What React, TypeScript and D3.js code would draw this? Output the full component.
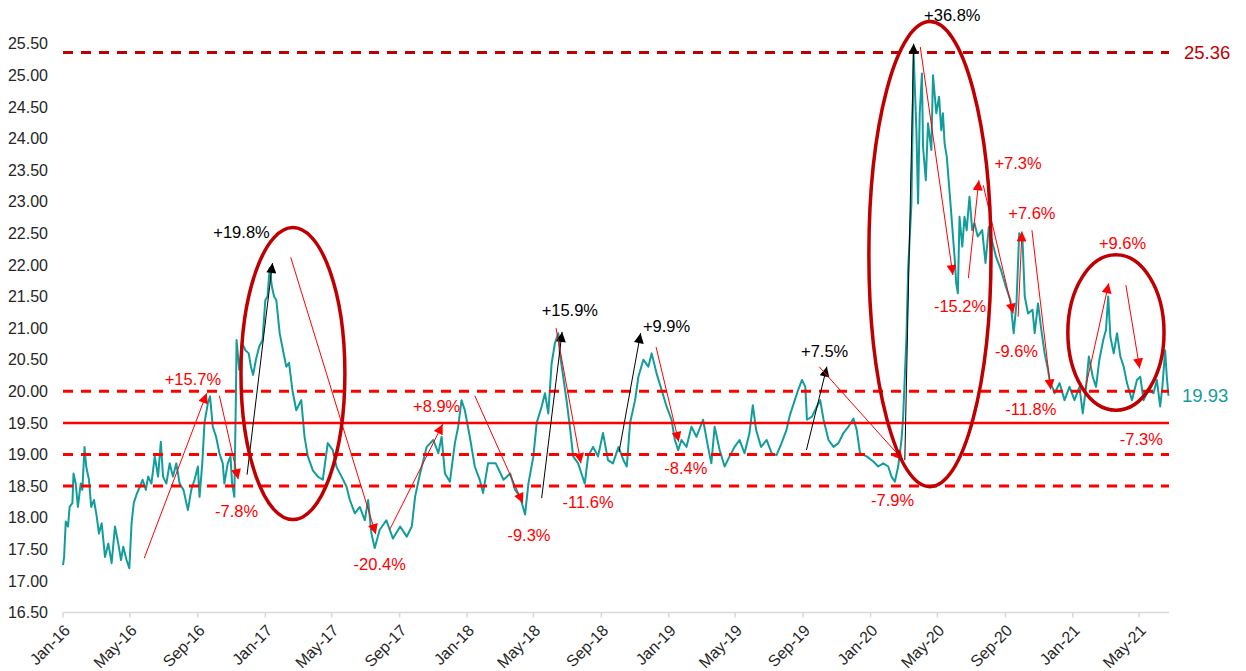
import React, { useEffect, useRef } from 'react';
import * as d3 from 'd3';

type Pt = [string, number];

// daily closes, one list per year
const s2016: Pt[] = [
  ['2016-01-01', 17.25], ['2016-01-03', 17.38], ['2016-01-06', 17.94], ['2016-01-10', 17.86], ['2016-01-13', 18.17],
  ['2016-01-18', 18.23], ['2016-01-20', 18.7], ['2016-01-24', 18.54], ['2016-01-28', 18.17], ['2016-02-02', 18.54],
  ['2016-02-05', 18.44], ['2016-02-09', 19.12], ['2016-02-12', 18.81], ['2016-02-17', 18.6], ['2016-02-21', 18.17],
  ['2016-02-26', 18.28], ['2016-03-02', 18.02], ['2016-03-06', 17.75], ['2016-03-11', 17.91], ['2016-03-17', 17.38],
  ['2016-03-23', 17.59], ['2016-03-29', 17.28], ['2016-04-04', 17.86], ['2016-04-10', 17.59], ['2016-04-15', 17.33],
  ['2016-04-19', 17.54], ['2016-04-25', 17.33], ['2016-04-30', 17.2], ['2016-05-04', 17.91], ['2016-05-08', 18.23],
  ['2016-05-14', 18.39], ['2016-05-19', 18.49], ['2016-05-24', 18.6], ['2016-05-30', 18.44], ['2016-06-03', 18.65],
  ['2016-06-09', 18.54], ['2016-06-15', 18.97], ['2016-06-21', 18.65], ['2016-06-26', 19.2], ['2016-06-30', 18.65],
  ['2016-07-06', 18.54], ['2016-07-12', 18.86], ['2016-07-18', 18.65], ['2016-07-24', 18.86], ['2016-07-30', 18.54],
  ['2016-08-06', 18.44], ['2016-08-14', 18.12], ['2016-08-20', 18.44], ['2016-08-26', 18.6], ['2016-09-01', 18.81],
  ['2016-09-04', 18.33], ['2016-09-09', 18.86], ['2016-09-13', 19.5], ['2016-09-19', 19.81], ['2016-09-23', 19.92],
  ['2016-09-28', 19.44], ['2016-10-04', 19.28], ['2016-10-10', 19.02], ['2016-10-16', 18.86], ['2016-10-19', 18.54],
  ['2016-10-25', 18.86], ['2016-10-30', 18.97], ['2016-11-02', 18.54], ['2016-11-06', 18.33], ['2016-11-09', 20.02],
  ['2016-11-10', 20.81], ['2016-11-15', 20.34], ['2016-11-20', 20.76], ['2016-11-26', 20.65], ['2016-12-02', 20.6],
  ['2016-12-06', 20.39], ['2016-12-10', 20.26], ['2016-12-15', 20.5], ['2016-12-21', 20.71], ['2016-12-27', 20.81],
];

const s2017: Pt[] = [
  ['2017-01-01', 21.44], ['2017-01-05', 21.5], ['2017-01-09', 21.95], ['2017-01-13', 21.65], ['2017-01-17', 21.5],
  ['2017-01-21', 21.44], ['2017-01-27', 20.92], ['2017-02-02', 20.65], ['2017-02-08', 20.39], ['2017-02-13', 20.45],
  ['2017-02-19', 20.02], ['2017-02-26', 19.7], ['2017-03-07', 19.86], ['2017-03-13', 19.28], ['2017-03-19', 18.97],
  ['2017-03-28', 18.75], ['2017-04-06', 18.65], ['2017-04-15', 18.6], ['2017-04-24', 19.18], ['2017-05-03', 19.07],
  ['2017-05-10', 18.8], ['2017-05-19', 18.65], ['2017-05-28', 18.49], ['2017-06-03', 18.28], ['2017-06-12', 18.07],
  ['2017-06-21', 18.17], ['2017-06-30', 17.96], ['2017-07-06', 18.28], ['2017-07-12', 17.75], ['2017-07-18', 17.52],
  ['2017-07-27', 17.81], ['2017-08-08', 17.96], ['2017-08-20', 17.67], ['2017-09-02', 17.86], ['2017-09-14', 17.7],
  ['2017-09-23', 17.86], ['2017-09-29', 18.33], ['2017-10-08', 18.7], ['2017-10-20', 19.12], ['2017-11-01', 19.23],
  ['2017-11-10', 19.02], ['2017-11-16', 19.28], ['2017-11-22', 18.7], ['2017-12-01', 18.57], ['2017-12-10', 19.18],
  ['2017-12-16', 19.44], ['2017-12-22', 19.86], ['2017-12-28', 19.7],
];

const s2018: Pt[] = [
  ['2018-01-06', 19.28], ['2018-01-15', 18.81], ['2018-01-24', 18.6], ['2018-01-30', 18.39], ['2018-02-08', 18.86],
  ['2018-02-22', 18.86], ['2018-03-08', 18.6], ['2018-03-20', 18.7], ['2018-03-29', 18.44], ['2018-04-07', 18.33],
  ['2018-04-16', 18.05], ['2018-04-22', 18.54], ['2018-05-01', 18.97], ['2018-05-07', 19.5], ['2018-05-16', 19.76],
  ['2018-05-22', 19.97], ['2018-05-28', 19.65], ['2018-06-03', 20.44], ['2018-06-09', 20.76], ['2018-06-15', 20.92],
  ['2018-06-18', 20.6], ['2018-06-24', 20.23], ['2018-06-30', 19.86], ['2018-07-06', 19.44], ['2018-07-12', 18.97],
  ['2018-07-21', 18.86], ['2018-07-27', 18.7], ['2018-08-02', 18.54], ['2018-08-08', 18.97], ['2018-08-17', 19.12],
  ['2018-08-26', 18.97], ['2018-09-04', 19.34], ['2018-09-13', 18.91], ['2018-09-22', 18.86], ['2018-10-02', 19.12],
  ['2018-10-11', 18.91], ['2018-10-17', 18.81], ['2018-10-23', 19.5], ['2018-11-01', 19.86], ['2018-11-07', 20.23],
  ['2018-11-16', 20.5], ['2018-11-25', 20.39], ['2018-12-01', 20.6], ['2018-12-10', 20.28], ['2018-12-19', 20.02],
  ['2018-12-28', 19.76],
];

const s2019: Pt[] = [
  ['2019-01-06', 19.55], ['2019-01-12', 19.23], ['2019-01-18', 19.07], ['2019-01-24', 19.23], ['2019-02-02', 19.12],
  ['2019-02-11', 19.44], ['2019-02-20', 19.28], ['2019-03-04', 19.55], ['2019-03-13', 19.12], ['2019-03-19', 18.86],
  ['2019-03-25', 19.44], ['2019-04-03', 19.07], ['2019-04-12', 18.81], ['2019-04-21', 18.97], ['2019-04-30', 19.12],
  ['2019-05-09', 19.23], ['2019-05-18', 19.02], ['2019-05-27', 19.34], ['2019-06-02', 19.78], ['2019-06-08', 19.39],
  ['2019-06-17', 19.12], ['2019-06-27', 19.23], ['2019-07-06', 19.02], ['2019-07-15', 18.99], ['2019-07-24', 19.18],
  ['2019-08-02', 19.39], ['2019-08-08', 19.62], ['2019-08-17', 19.86], ['2019-08-23', 20.02], ['2019-08-30', 20.18],
  ['2019-09-05', 20.07], ['2019-09-08', 19.55], ['2019-09-17', 19.6], ['2019-09-26', 19.76], ['2019-10-02', 19.86],
  ['2019-10-08', 19.55], ['2019-10-17', 19.23], ['2019-10-26', 19.12], ['2019-11-04', 19.18], ['2019-11-13', 19.34],
  ['2019-11-22', 19.44], ['2019-12-01', 19.57], ['2019-12-07', 19.39], ['2019-12-13', 19.02], ['2019-12-25', 18.97],
];

const s2020: Pt[] = [
  ['2020-01-06', 18.89], ['2020-01-15', 18.81], ['2020-01-24', 18.86], ['2020-02-02', 18.81], ['2020-02-08', 18.65],
  ['2020-02-14', 18.57], ['2020-02-20', 18.81], ['2020-02-26', 19.23], ['2020-02-29', 19.6], ['2020-03-06', 20.86],
  ['2020-03-09', 21.92], ['2020-03-15', 22.97], ['2020-03-17', 24.13], ['2020-03-19', 25.35], ['2020-03-24', 24.13],
  ['2020-03-27', 22.97], ['2020-03-30', 24.4], ['2020-04-03', 25.03], ['2020-04-05', 23.87], ['2020-04-10', 23.34],
  ['2020-04-14', 24.24], ['2020-04-20', 23.82], ['2020-04-23', 25.0], ['2020-04-29', 24.4], ['2020-05-04', 24.66],
  ['2020-05-08', 24.13], ['2020-05-11', 24.4], ['2020-05-14', 23.92], ['2020-05-18', 23.71], ['2020-05-26', 22.82],
  ['2020-06-01', 22.13], ['2020-06-04', 21.71], ['2020-06-07', 21.55], ['2020-06-10', 22.76], ['2020-06-15', 22.29],
  ['2020-06-19', 22.76], ['2020-06-23', 22.55], ['2020-06-28', 23.08], ['2020-07-03', 22.55], ['2020-07-07', 22.66],
  ['2020-07-13', 22.45], ['2020-07-21', 22.55], ['2020-07-27', 22.03], ['2020-08-02', 22.6], ['2020-08-09', 22.34],
  ['2020-08-15', 22.13], ['2020-08-24', 21.92], ['2020-09-02', 21.65], ['2020-09-10', 21.44], ['2020-09-16', 20.92],
  ['2020-09-21', 21.39], ['2020-09-26', 22.5], ['2020-10-02', 22.39], ['2020-10-06', 21.5], ['2020-10-12', 21.23],
  ['2020-10-20', 21.29], ['2020-10-24', 20.92], ['2020-10-30', 21.39], ['2020-11-05', 20.97], ['2020-11-11', 20.6],
  ['2020-11-17', 20.34], ['2020-11-20', 20.18], ['2020-11-29', 19.97], ['2020-12-08', 20.13], ['2020-12-17', 19.86],
  ['2020-12-26', 20.07],
];

const s2021: Pt[] = [
  ['2021-01-04', 19.86], ['2021-01-13', 20.07], ['2021-01-19', 19.65], ['2021-01-25', 20.07], ['2021-01-30', 20.55],
  ['2021-02-06', 20.23], ['2021-02-12', 20.07], ['2021-02-18', 20.5], ['2021-02-25', 20.81], ['2021-03-02', 20.97],
  ['2021-03-06', 21.5], ['2021-03-10', 20.86], ['2021-03-16', 20.6], ['2021-03-22', 20.92], ['2021-03-28', 20.55],
  ['2021-04-03', 20.39], ['2021-04-09', 20.13], ['2021-04-18', 19.86], ['2021-04-27', 20.18], ['2021-05-03', 20.23],
  ['2021-05-09', 19.86], ['2021-05-18', 20.02], ['2021-05-27', 19.97], ['2021-06-02', 20.18], ['2021-06-08', 19.76],
  ['2021-06-12', 20.07], ['2021-06-17', 20.65], ['2021-06-20', 20.23], ['2021-06-23', 19.93],
];

const yTicks = [16.5, 17, 17.5, 18, 18.5, 19, 19.5, 20, 20.5, 21, 21.5, 22, 22.5, 23, 23.5, 24, 24.5, 25, 25.5];
const peakLevel = 25.36;
const pivotLevel = 19.5;
const dashedLevels = [20, 19, 18.5];
const lastValue = 19.93;

// swing annotations: arrow from -> to, label at `at`
interface Move { label: string; black?: boolean; from: Pt; to: Pt; at: Pt; }
const moves: Move[] = [
  { label: '+15.7%', from: ['2016-05-27', 17.36], to: ['2016-09-17', 19.97], at: ['2016-08-23', 20.19] },
  { label: '-7.8%', from: ['2016-10-10', 19.93], to: ['2016-11-13', 18.61], at: ['2016-11-10', 18.1] },
  { label: '+19.8%', black: true, from: ['2016-11-29', 18.68], to: ['2017-01-14', 22.03], at: ['2016-11-19', 22.52] },
  { label: '-20.4%', from: ['2017-02-16', 22.12], to: ['2017-07-20', 17.74], at: ['2017-07-27', 17.26] },
  { label: '+8.9%', from: ['2017-08-14', 17.81], to: ['2017-11-18', 19.48], at: ['2017-11-07', 19.77] },
  { label: '-9.3%', from: ['2018-01-15', 19.93], to: ['2018-04-12', 18.23], at: ['2018-04-23', 17.73] },
  { label: '+15.9%', black: true, from: ['2018-05-16', 18.31], to: ['2018-06-22', 20.94], at: ['2018-07-06', 21.28] },
  { label: '-11.6%', from: ['2018-06-11', 21.0], to: ['2018-07-26', 18.86], at: ['2018-08-08', 18.24] },
  { label: '+9.9%', black: true, from: ['2018-10-03', 19.04], to: ['2018-11-11', 20.92], at: ['2018-12-28', 21.03] },
  { label: '-8.4%', from: ['2018-12-09', 20.7], to: ['2019-01-19', 19.2], at: ['2019-02-01', 18.78] },
  { label: '+7.5%', black: true, from: ['2019-09-07', 19.07], to: ['2019-10-14', 20.39], at: ['2019-10-10', 20.64] },
  { label: '-7.9%', from: ['2019-09-30', 20.39], to: ['2020-02-29', 18.91], at: ['2020-02-10', 18.27] },
  { label: '+36.8%', black: true, from: ['2020-03-03', 18.91], to: ['2020-03-19', 25.5], at: ['2020-05-28', 25.95] },
  { label: '-15.2%', from: ['2020-03-31', 25.45], to: ['2020-05-29', 21.84], at: ['2020-06-11', 21.34] },
  { label: '+7.3%', from: ['2020-06-26', 21.79], to: ['2020-07-15', 23.34], at: ['2020-09-24', 23.61] },
  { label: '-9.6%', from: ['2020-07-23', 23.26], to: ['2020-09-15', 21.23], at: ['2020-09-21', 20.63] },
  { label: '+7.6%', from: ['2020-09-24', 21.18], to: ['2020-10-01', 22.53], at: ['2020-10-19', 22.81] },
  { label: '-11.8%', from: ['2020-10-19', 22.55], to: ['2020-11-22', 20.03], at: ['2020-10-17', 19.72] },
  { label: '+9.6%', from: ['2021-01-23', 20.02], to: ['2021-03-07', 21.71], at: ['2021-04-01', 22.35] },
  { label: '-7.3%', from: ['2021-04-07', 21.68], to: ['2021-05-02', 20.36], at: ['2021-05-05', 19.24] },
];

// highlighted regimes: bounding box of each ellipse
const regimes = [
  { start: '2016-11-18', end: '2017-05-25', low: 17.97, high: 22.59 },
  { start: '2019-12-29', end: '2020-08-06', low: 18.49, high: 25.85 },
  { start: '2020-12-23', end: '2021-06-15', low: 19.7, high: 22.16 },
];

const parse = d3.utcParse('%Y-%m-%d');
const font = '"Liberation Sans", Arial, sans-serif';

export default function App() {
  const svgRef = useRef<SVGSVGElement>(null);

  useEffect(() => {
    if (!svgRef.current) return;
    const svg = d3.select(svgRef.current);
    svg.selectAll('*').remove();

    const series = [...s2016, ...s2017, ...s2018, ...s2019, ...s2020, ...s2021]
      .map(([d, v]) => ({ date: parse(d) as Date, value: v }));

    const x = d3.scaleUtc()
      .domain([parse('2016-01-01') as Date, parse('2021-06-24') as Date])
      .range([63, 1169]);
    const y = d3.scaleLinear().domain([16.5, 25.5]).range([612.5, 43.7]);
    const px = (p: Pt) => x(parse(p[0]) as Date);
    const py = (p: Pt) => y(p[1]);

    const defs = svg.append('defs');
    [['head-red', '#FF0000'], ['head-black', '#000000']].forEach(([id, c]) => {
      defs.append('marker')
        .attr('id', id)
        .attr('viewBox', '0 0 10 10')
        .attr('refX', 10)
        .attr('refY', 5)
        .attr('markerWidth', 11)
        .attr('markerHeight', 10)
        .attr('markerUnits', 'userSpaceOnUse')
        .attr('orient', 'auto')
        .append('path')
        .attr('d', 'M0,0 L10,5 L0,10 z')
        .attr('fill', c);
    });

    // x axis
    const [x0, x1] = x.range();
    svg.append('line')
      .attr('x1', x0).attr('x2', x1)
      .attr('y1', y(16.5)).attr('y2', y(16.5))
      .attr('stroke', '#D9D9D9').attr('stroke-width', 1.5);

    const xTicks = x.ticks(d3.utcMonth.every(4) as d3.TimeInterval);
    const fmt = d3.utcFormat('%b-%y');
    xTicks.forEach((t) => {
      svg.append('line')
        .attr('x1', x(t)).attr('x2', x(t))
        .attr('y1', y(16.5)).attr('y2', y(16.5) + 5)
        .attr('stroke', '#D9D9D9').attr('stroke-width', 1.5);
      svg.append('text')
        .attr('transform', `translate(${x(t) + 8},${y(16.5) + 19}) rotate(-45)`)
        .attr('text-anchor', 'end')
        .attr('font-family', font)
        .attr('font-size', '16px')
        .attr('fill', '#262626')
        .text(fmt(t));
    });

    // y labels
    yTicks.forEach((v) => {
      svg.append('text')
        .attr('x', 48)
        .attr('y', y(v))
        .attr('dy', '0.35em')
        .attr('text-anchor', 'end')
        .attr('font-family', font)
        .attr('font-size', '16px')
        .attr('fill', '#262626')
        .text(v.toFixed(2));
    });

    // series
    const line = d3.line<{ date: Date; value: number }>()
      .x((d) => x(d.date))
      .y((d) => y(d.value));
    svg.append('path')
      .datum(series)
      .attr('d', line)
      .attr('fill', 'none')
      .attr('stroke', '#139C9C')
      .attr('stroke-width', 2)
      .attr('stroke-linejoin', 'round');

    // levels
    svg.append('line')
      .attr('x1', x0).attr('x2', x1)
      .attr('y1', y(peakLevel)).attr('y2', y(peakLevel))
      .attr('stroke', '#C00000').attr('stroke-width', 3)
      .attr('stroke-dasharray', '10,8');
    dashedLevels.forEach((v) => {
      svg.append('line')
        .attr('x1', x0).attr('x2', x1)
        .attr('y1', y(v)).attr('y2', y(v))
        .attr('stroke', '#FF0000').attr('stroke-width', 3)
        .attr('stroke-dasharray', '10,8');
    });
    svg.append('line')
      .attr('x1', x0).attr('x2', x1)
      .attr('y1', y(pivotLevel)).attr('y2', y(pivotLevel))
      .attr('stroke', '#FF0000').attr('stroke-width', 2.5);

    // arrows
    moves.forEach((m) => {
      svg.append('line')
        .attr('x1', px(m.from)).attr('y1', py(m.from))
        .attr('x2', px(m.to)).attr('y2', py(m.to))
        .attr('stroke', m.black ? '#000000' : '#FF0000')
        .attr('stroke-width', 1)
        .attr('marker-end', `url(#${m.black ? 'head-black' : 'head-red'})`);
    });

    // ellipses
    regimes.forEach((r) => {
      const a = x(parse(r.start) as Date);
      const b = x(parse(r.end) as Date);
      svg.append('ellipse')
        .attr('cx', (a + b) / 2)
        .attr('cy', (y(r.low) + y(r.high)) / 2)
        .attr('rx', (b - a) / 2)
        .attr('ry', (y(r.low) - y(r.high)) / 2)
        .attr('fill', 'none')
        .attr('stroke', '#C00000')
        .attr('stroke-width', 3.5);
    });

    // labels
    moves.forEach((m) => {
      svg.append('text')
        .attr('x', px(m.at))
        .attr('y', py(m.at))
        .attr('dy', '0.35em')
        .attr('text-anchor', 'middle')
        .attr('font-family', font)
        .attr('font-size', '16.5px')
        .attr('fill', m.black ? '#000000' : '#FF0000')
        .text(m.label);
    });

    svg.append('text')
      .attr('x', x1 + 15).attr('y', y(peakLevel)).attr('dy', '0.35em')
      .attr('font-family', font).attr('font-size', '18.5px')
      .attr('fill', '#C00000')
      .text(peakLevel.toFixed(2));
    svg.append('text')
      .attr('x', x1 + 13).attr('y', y(lastValue)).attr('dy', '0.35em')
      .attr('font-family', font).attr('font-size', '18.5px')
      .attr('fill', '#139C9C')
      .text(lastValue.toFixed(2));
  }, []);

  return (
    <svg
      ref={svgRef}
      width={1246}
      height={671}
      style={{ position: 'absolute', left: 0, top: 0, background: '#fff' }}
    />
  );
}
